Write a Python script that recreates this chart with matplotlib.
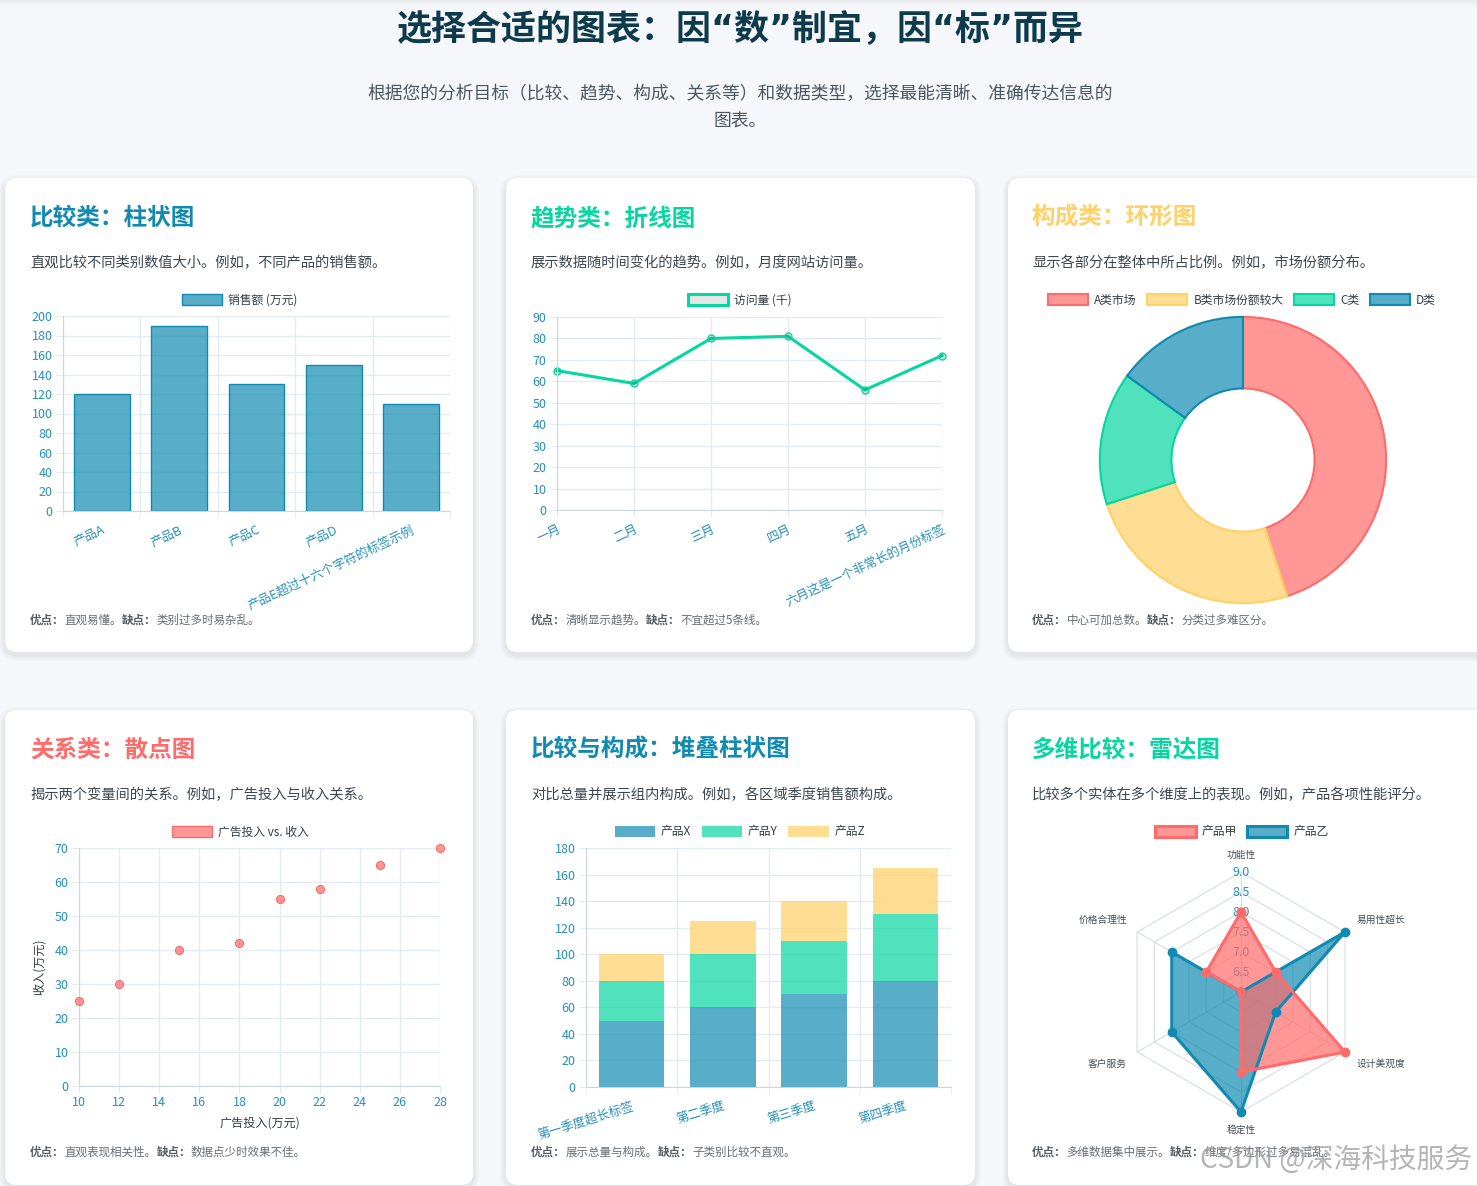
import numpy as np
import matplotlib
matplotlib.use('Agg')
import matplotlib.pyplot as plt
from matplotlib.colors import to_rgba
from matplotlib.patches import FancyBboxPatch, Patch

W, H = 1477, 1186
DPI = 100

plt.rcParams['font.family'] = ['Noto Sans CJK SC', 'DejaVu Sans']

BLUE = '#118ab2'
GREEN = '#06d6a0'
YELLOW = '#ffd166'
RED = '#ff6b6b'
TICK = '#2590bb'
GRID = '#e3edf1'
AXIS = '#cbd7dc'
TEXT = '#333d45'
PAGE = '#f5f7fa'

# chart data
products = ['产品A', '产品B', '产品C', '产品D', '产品E超过十六个字符的标签示例']
sales = [120, 190, 130, 150, 110]

months = ['一月', '二月', '三月', '四月', '五月', '六月这是一个非常长的月份标签']
visits = [65, 59, 80, 81, 56, 72]

segments = ['A类市场', 'B类市场份额较大', 'C类', 'D类']
shares = [45, 25, 15, 15]

ad_spend = [10, 12, 15, 18, 20, 22, 25, 28]
revenue = [25, 30, 40, 42, 55, 58, 65, 70]

quarters = ['第一季度超长标签', '第二季度', '第三季度', '第四季度']
prod_x = [50, 60, 70, 80]
prod_y = [30, 40, 40, 50]
prod_z = [20, 25, 30, 35]

dims = ['功能性', '易用性超长', '设计美观度', '稳定性', '客户服务', '价格合理性']
prod_jia = [8, 7, 9, 8, 6, 7]
prod_yi = [6, 9, 7, 9, 8, 8]


def alpha(c, a=0.7):
    return to_rgba(c, a)


fig = plt.figure(figsize=(W / DPI, H / DPI), dpi=DPI, facecolor=PAGE)
bg = fig.add_axes([0, 0, 1, 1])
bg.set_xlim(0, W)
bg.set_ylim(H, 0)
bg.axis('off')

# faint shadow under the browser bar
for i in range(6):
    bg.axhspan(i, i + 1, color='black', alpha=0.05 * (1 - i / 6), lw=0)


def px_axes(left, top, right, bottom, **kw):
    return fig.add_axes([left / W, 1 - bottom / H, (right - left) / W, (bottom - top) / H], **kw)


def card(x0, y0, x1, y1):
    for k in range(1, 7):
        bg.add_patch(FancyBboxPatch((x0 - k, y0 - k + 3), x1 - x0 + 2 * k, y1 - y0 + 2 * k,
                                    boxstyle=f'round,pad=0,rounding_size={12 + k}',
                                    fc='black', ec='none', alpha=0.012))
    bg.add_patch(FancyBboxPatch((x0, y0), x1 - x0, y1 - y0,
                                boxstyle='round,pad=0,rounding_size=12', fc='white', ec='none'))


def card_text(x, y, title, color, desc, pro, con, foot_y):
    bg.text(x, y, title, fontsize=17, fontweight='bold', color=color, va='center')
    bg.text(x, y + 45, desc, fontsize=10.3, color='#3c4750', va='center')
    t = bg.text(x, foot_y, '优点：', fontsize=8.3, fontweight='bold', color='#555c63', va='center')
    for s, w in [(pro, 'normal'), ('缺点：', 'bold'), (con, 'normal')]:
        t = bg.annotate(s, xy=(1, 0.5), xycoords=t, fontsize=8.3, fontweight=w,
                        color='#555c63' if w == 'bold' else '#666d73', va='center', ha='left')


def style_axes(ax):
    ax.set_facecolor('none')
    for side in ('top', 'right'):
        ax.spines[side].set_visible(False)
    for side in ('left', 'bottom'):
        ax.spines[side].set_color(AXIS)
    ax.tick_params(labelcolor=TICK, labelsize=9, color=GRID, length=5, pad=2.5)
    ax.grid(color=GRID, lw=1)
    ax.set_axisbelow(True)


def category_axis(ax, labels, rotation):
    n = len(labels)
    ax.set_xticks(np.arange(n))
    ax.set_xticklabels(labels, rotation=rotation, ha='right', rotation_mode='anchor')
    ax.set_xticks(np.arange(-0.5, n), minor=True)
    ax.tick_params(axis='x', which='major', length=0, pad=9)
    ax.tick_params(axis='x', which='minor', length=5, color=GRID)
    ax.grid(axis='x', which='major', visible=False)
    ax.grid(axis='x', which='minor', color=GRID, lw=1)
    ax.set_xlim(-0.5, n - 0.5)


def legend(ax, handles, labels, cx, cy):
    ax.legend(handles, labels, loc='center', bbox_to_anchor=(cx, cy), bbox_transform=bg.transData,
              ncol=len(handles), frameon=False, fontsize=8.5, handlelength=3.4, handleheight=1.1,
              handletextpad=0.5, columnspacing=0.9, labelcolor=TEXT, borderaxespad=0, borderpad=0)


# page header (narrow quotes come from DejaVu, CJK from Noto)
bg.text(740, 30, '选择合适的图表：因“数”制宜，因“标”而异', fontsize=25.2, fontweight='bold',
        family=['DejaVu Sans', 'Noto Sans CJK SC'], color='#0d3b4c', ha='center', va='center')
bg.text(740, 94, '根据您的分析目标（比较、趋势、构成、关系等）和数据类型，选择最能清晰、准确传达信息的',
        fontsize=12.8, color='#4b5761', ha='center', va='center')
bg.text(740, 122, '图表。', fontsize=12.8, color='#4b5761', ha='center', va='center')

cols = [(5, 473), (506, 975), (1008, 1500)]
rows = [(178, 652), (710, 1185)]
for top, bottom in rows:
    for left, right in cols:
        card(left, top, right, bottom)

card_text(30, 218, '比较类：柱状图', BLUE, '直观比较不同类别数值大小。例如，不同产品的销售额。',
          '直观易懂。', '类别过多时易杂乱。', 620)
card_text(531, 218, '趋势类：折线图', GREEN, '展示数据随时间变化的趋势。例如，月度网站访问量。',
          '清晰显示趋势。', '不宜超过5条线。', 620)
card_text(1032, 218, '构成类：环形图', YELLOW, '显示各部分在整体中所占比例。例如，市场份额分布。',
          '中心可加总数。', '分类过多难区分。', 620)
card_text(30, 750, '关系类：散点图', RED, '揭示两个变量间的关系。例如，广告投入与收入关系。',
          '直观表现相关性。', '数据点少时效果不佳。', 1152)
card_text(531, 750, '比较与构成：堆叠柱状图', BLUE, '对比总量并展示组内构成。例如，各区域季度销售额构成。',
          '展示总量与构成。', '子类别比较不直观。', 1152)
card_text(1032, 750, '多维比较：雷达图', GREEN, '比较多个实体在多个维度上的表现。例如，产品各项性能评分。',
          '多维数据集中展示。', '维度/多边形过多易混乱。', 1152)

# 1. bar chart
ax1 = px_axes(63, 316, 450, 511)
style_axes(ax1)
ax1.bar(np.arange(len(products)), sales, width=0.72, color=alpha(BLUE), edgecolor=BLUE, linewidth=1)
ax1.set_ylim(0, 200)
ax1.set_yticks(np.arange(0, 201, 20))
category_axis(ax1, products, 25)
legend(ax1, [Patch(fc=alpha(BLUE), ec=BLUE, lw=1)], ['销售额 (万元)'], 240, 300)

# 2. line chart
ax2 = px_axes(557, 317, 942, 510)
style_axes(ax2)
ax2.plot(np.arange(len(months)), visits, color=GREEN, lw=2.2, marker='o', ms=5,
         mfc=(0, 0, 0, 0.1), mec=GREEN, mew=1, clip_on=False)
ax2.set_xlim(0, len(months) - 1)
ax2.set_ylim(0, 90)
ax2.set_yticks(np.arange(0, 91, 10))
ax2.set_xticks(np.arange(len(months)))
ax2.set_xticklabels(months, rotation=25, ha='right', rotation_mode='anchor')
ax2.tick_params(axis='x', pad=4)
legend(ax2, [Patch(fc='#e6e6e6', ec=GREEN, lw=2.2)], ['访问量 (千)'], 740, 300)

# 3. doughnut
ax3 = px_axes(1097, 314, 1389, 606)
ring_colors = [RED, YELLOW, GREEN, BLUE]
wedges, _ = ax3.pie(shares, startangle=90, counterclock=False, radius=1,
                    colors=[alpha(c) for c in ring_colors], wedgeprops=dict(width=0.5, lw=1.5))
for w, c in zip(wedges, ring_colors):
    w.set_edgecolor(c)
ax3.set_xlim(-1.02, 1.02)
ax3.set_ylim(-1.02, 1.02)
ax3.set_aspect('equal')
legend(ax3, [Patch(fc=alpha(c), ec=c, lw=1.5) for c in ring_colors], segments, 1242, 300)

# 4. scatter
ax4 = px_axes(79, 848, 440, 1086)
style_axes(ax4)
ax4.scatter(ad_spend, revenue, s=34, color=alpha(RED), edgecolor=RED, linewidth=0.8, clip_on=False, zorder=3)
ax4.set_xlim(10, 28)
ax4.set_ylim(0, 70)
ax4.set_xticks(np.arange(10, 29, 2))
ax4.set_yticks(np.arange(0, 71, 10))
ax4.set_xlabel('广告投入(万元)', fontsize=8.7, color=TEXT, labelpad=5)
ax4.set_ylabel('收入(万元)', fontsize=8.7, color=TEXT, labelpad=6)
legend(ax4, [Patch(fc=alpha(RED), ec=RED, lw=1)], ['广告投入 vs. 收入'], 240, 832)

# 5. stacked bar
ax5 = px_axes(586, 848, 951, 1087)
style_axes(ax5)
xq = np.arange(len(quarters))
ax5.bar(xq, prod_x, width=0.72, color=alpha(BLUE))
ax5.bar(xq, prod_y, width=0.72, bottom=prod_x, color=alpha(GREEN))
ax5.bar(xq, prod_z, width=0.72, bottom=np.add(prod_x, prod_y), color=alpha(YELLOW))
ax5.set_ylim(0, 180)
ax5.set_yticks(np.arange(0, 181, 20))
category_axis(ax5, quarters, 17)
legend(ax5, [Patch(fc=alpha(c), ec='none') for c in (BLUE, GREEN, YELLOW)],
       ['产品X', '产品Y', '产品Z'], 740, 832)

# 6. radar
ax6 = px_axes(1121, 872, 1361, 1112, projection='polar')
ax6.set_theta_zero_location('N')
ax6.set_theta_direction(-1)
ax6.set_ylim(6, 9)
ax6.set_axis_off()
theta = np.linspace(0, 2 * np.pi, len(dims), endpoint=False)
theta_c = np.append(theta, theta[0])
for r in np.arange(6.5, 9.01, 0.5):
    ax6.plot(theta_c, np.full(len(theta_c), r), color='#d6dee2', lw=0.8, clip_on=False, zorder=1)
    ax6.text(0, r, f'{r:.1f}', color=TICK, fontsize=9, ha='center', va='center', zorder=2)
for th in theta:
    ax6.plot([th, th], [6, 9], color='#d6dee2', lw=0.8, clip_on=False, zorder=1)
for vals, c in [(prod_yi, BLUE), (prod_jia, RED)]:
    v = np.append(vals, vals[0])
    ax6.fill(theta_c, v, color=alpha(c), zorder=3, clip_on=False)
    ax6.plot(theta_c, v, color=c, lw=2.2, marker='o', ms=6, clip_on=False, zorder=4)
offsets = [(0, 17, 'center'), (12, 12, 'left'), (12, -12, 'left'),
           (0, -18, 'center'), (-10, -12, 'right'), (-10, 12, 'right')]
for th, name, (dx, dy, ha) in zip(theta, dims, offsets):
    ax6.annotate(name, xy=(th, 9), xytext=(dx, dy), textcoords='offset pixels',
                 fontsize=7, color='#444c52', ha=ha, va='center')
legend(ax6, [Patch(fc=alpha(RED), ec=RED, lw=2.2), Patch(fc=alpha(BLUE), ec=BLUE, lw=2.2)],
       ['产品甲', '产品乙'], 1242, 832)

# watermark of the screenshot (it sits over the last footer in the reference too)
bg.text(1472, 1160, 'CSDN @深海科技服务', fontsize=20, color='#9c9c9c', alpha=0.75,
        ha='right', va='center', zorder=10)

fig.savefig('out.png', dpi=DPI, facecolor=PAGE)
